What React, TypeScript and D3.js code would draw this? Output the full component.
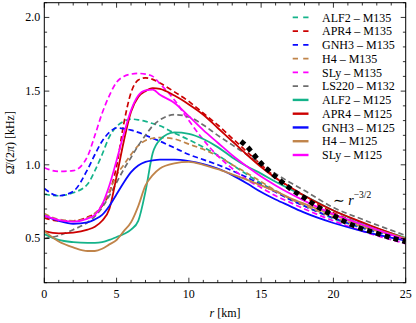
import { useEffect, useRef } from 'react'
import * as d3 from 'd3'

const W = 416
const H = 323
const FONT = 'Liberation Serif, DejaVu Serif, serif'

const TEAL = '#14b38a'
const RED = '#cc0000'
const BLUE = '#0a0aff'
const BROWN = '#c0844a'
const MAGENTA = '#ff00ff'
const GREY = '#6e6e6e'

// radius grid in km
const R = [0, 1, 2, 3, 3.5, 4, 4.5, 5, 5.5, 6, 6.5, 7, 7.5, 8, 9, 10, 11, 12, 13, 14, 15, 16, 17, 18, 20, 22, 25]

// M135 runs (dashed)
const alf2M135 = [0.8, 0.79, 0.81, 0.87, 0.96, 1.07, 1.19, 1.26, 1.295, 1.31, 1.305, 1.295, 1.28, 1.265, 1.215, 1.17, 1.12, 1.065, 1.0, 0.935, 0.875, 0.82, 0.765, 0.72, 0.635, 0.57, 0.49]
const apr4M135 = [0.64, 0.62, 0.62, 0.645, 0.67, 0.72, 0.81, 0.99, 1.28, 1.49, 1.575, 1.59, 1.58, 1.555, 1.495, 1.43, 1.35, 1.27, 1.18, 1.09, 1.0, 0.915, 0.845, 0.78, 0.675, 0.595, 0.495]
const gnh3M135 = [0.84, 0.79, 0.82, 0.97, 1.07, 1.16, 1.22, 1.25, 1.245, 1.235, 1.22, 1.2, 1.18, 1.16, 1.115, 1.07, 1.035, 1.0, 0.96, 0.915, 0.865, 0.815, 0.765, 0.72, 0.64, 0.575, 0.49]
const h4M135 = [0.67, 0.63, 0.62, 0.64, 0.67, 0.73, 0.82, 0.93, 1.0, 1.07, 1.13, 1.165, 1.18, 1.185, 1.175, 1.14, 1.105, 1.06, 1.0, 0.945, 0.885, 0.825, 0.77, 0.725, 0.645, 0.58, 0.5]
const slyM135 = [0.98, 0.955, 0.96, 1.06, 1.2, 1.35, 1.47, 1.56, 1.6, 1.615, 1.62, 1.615, 1.6, 1.55, 1.44, 1.3, 1.17, 1.06, 0.975, 0.9, 0.845, 0.79, 0.745, 0.7, 0.62, 0.55, 0.465]
const ls220M132 = [0.5, 0.52, 0.56, 0.61, 0.65, 0.71, 0.79, 0.88, 0.97, 1.05, 1.13, 1.2, 1.265, 1.305, 1.34, 1.325, 1.27, 1.2, 1.135, 1.07, 1.005, 0.94, 0.88, 0.825, 0.71, 0.63, 0.52]

// M125 runs (solid)
const alf2M125 = [0.53, 0.49, 0.475, 0.47, 0.47, 0.475, 0.49, 0.51, 0.53, 0.56, 0.62, 0.82, 1.08, 1.17, 1.22, 1.21, 1.175, 1.12, 1.05, 0.99, 0.94, 0.885, 0.835, 0.79, 0.69, 0.605, 0.505]
const apr4M125 = [0.55, 0.535, 0.54, 0.56, 0.58, 0.62, 0.7, 0.92, 1.16, 1.36, 1.46, 1.5, 1.52, 1.515, 1.47, 1.41, 1.34, 1.25, 1.16, 1.07, 0.985, 0.91, 0.85, 0.79, 0.69, 0.61, 0.5]
const gnh3M125 = [0.655, 0.62, 0.6, 0.61, 0.63, 0.66, 0.72, 0.8, 0.88, 0.95, 0.995, 1.02, 1.03, 1.035, 1.035, 1.025, 1.005, 0.975, 0.93, 0.875, 0.815, 0.765, 0.72, 0.675, 0.605, 0.55, 0.485]
const h4M125 = [0.55, 0.48, 0.44, 0.415, 0.415, 0.43, 0.46, 0.49, 0.55, 0.61, 0.72, 0.86, 0.93, 0.975, 1.01, 1.02, 1.0, 0.97, 0.935, 0.9, 0.86, 0.82, 0.775, 0.735, 0.66, 0.59, 0.5]
const slyM125 = [0.655, 0.625, 0.615, 0.635, 0.66, 0.73, 0.86, 1.03, 1.21, 1.37, 1.47, 1.505, 1.51, 1.475, 1.42, 1.33, 1.235, 1.15, 1.065, 0.99, 0.92, 0.86, 0.805, 0.755, 0.665, 0.595, 0.49]

// r^{-3/2} reference (black dotted)
const keplerR = [13.6, 14, 15, 16, 17, 18, 19, 20, 21, 22, 23, 24, 25]
const keplerV = [1.16, 1.125, 1.01, 0.92, 0.84, 0.775, 0.71, 0.655, 0.605, 0.565, 0.535, 0.505, 0.478]

const SERIES = [
  { label: 'ALF2 – M135', color: TEAL, dashed: true, values: alf2M135 },
  { label: 'APR4 – M135', color: RED, dashed: true, values: apr4M135 },
  { label: 'GNH3 – M135', color: BLUE, dashed: true, values: gnh3M135 },
  { label: 'H4 – M135', color: BROWN, dashed: true, values: h4M135 },
  { label: 'SLy – M135', color: MAGENTA, dashed: true, values: slyM135 },
  { label: 'LS220 – M132', color: GREY, dashed: true, values: ls220M132 },
  { label: 'ALF2 – M125', color: TEAL, dashed: false, values: alf2M125 },
  { label: 'APR4 – M125', color: RED, dashed: false, values: apr4M125 },
  { label: 'GNH3 – M125', color: BLUE, dashed: false, values: gnh3M125 },
  { label: 'H4 – M125', color: BROWN, dashed: false, values: h4M125 },
  { label: 'SLy – M125', color: MAGENTA, dashed: false, values: slyM125 },
]

export default function App() {
  const ref = useRef<SVGSVGElement>(null)

  useEffect(() => {
    if (!ref.current) return
    const svg = d3.select(ref.current)
    svg.selectAll('*').remove()

    const margin = { top: 2.7, right: 10.3, bottom: 40.3, left: 44.3 }
    const x = d3.scaleLinear().domain([0, 25]).range([margin.left, W - margin.right])
    const y = d3.scaleLinear().domain([0.2, 2.1]).range([H - margin.bottom, margin.top])
    const [x0, x1] = x.range()
    const [y0, y1] = y.range()

    svg.append('rect').attr('width', W).attr('height', H).attr('fill', '#fff')

    svg.append('defs').append('clipPath').attr('id', 'plot-clip')
      .append('rect').attr('x', x0).attr('y', y1).attr('width', x1 - x0).attr('height', y0 - y1)

    const plot = svg.append('g').attr('clip-path', 'url(#plot-clip)')

    const line = d3.line<number>()
      .x((_, i) => x(R[i]))
      .y((d) => y(d))
      .curve(d3.curveMonotoneX)

    const dashedFirst = [...SERIES.filter((s) => s.dashed), ...SERIES.filter((s) => !s.dashed)]
    dashedFirst.forEach((s) => {
      plot.append('path')
        .attr('d', line(s.values))
        .attr('fill', 'none')
        .attr('stroke', s.color)
        .attr('stroke-width', s.dashed ? 1.7 : 1.8)
        .attr('stroke-dasharray', s.dashed ? '5.5,3.2' : null)
    })

    const kepler = d3.line<number>()
      .x((_, i) => x(keplerR[i]))
      .y((d) => y(d))
      .curve(d3.curveMonotoneX)
    plot.append('path')
      .attr('d', kepler(keplerV))
      .attr('fill', 'none')
      .attr('stroke', '#000')
      .attr('stroke-width', 5)
      .attr('stroke-dasharray', '5,4.2')

    // frame
    svg.append('rect')
      .attr('x', x0).attr('y', y1).attr('width', x1 - x0).attr('height', y0 - y1)
      .attr('fill', 'none').attr('stroke', '#000').attr('stroke-width', 1)

    // ticks, inward on all sides
    const ticks = svg.append('g').attr('stroke', '#000').attr('stroke-width', 0.8)
    d3.range(0, 26, 1).forEach((v) => {
      const len = v % 5 === 0 ? 5 : 2.8
      ticks.append('line').attr('x1', x(v)).attr('x2', x(v)).attr('y1', y0).attr('y2', y0 - len)
      ticks.append('line').attr('x1', x(v)).attr('x2', x(v)).attr('y1', y1).attr('y2', y1 + len)
    })
    d3.range(2, 22, 1).forEach((k) => {
      const v = k / 10
      const len = k % 5 === 0 ? 5 : 2.8
      ticks.append('line').attr('y1', y(v)).attr('y2', y(v)).attr('x1', x0).attr('x2', x0 + len)
      ticks.append('line').attr('y1', y(v)).attr('y2', y(v)).attr('x1', x1).attr('x2', x1 - len)
    })

    const labels = svg.append('g').attr('fill', '#000')
      .style('font-family', FONT).style('font-size', '12px')
    ;[0, 5, 10, 15, 20, 25].forEach((v) => {
      labels.append('text').attr('x', x(v)).attr('y', y0 + 15.5)
        .attr('text-anchor', 'middle').text(String(v))
    })
    ;[0.5, 1.0, 1.5, 2.0].forEach((v) => {
      labels.append('text').attr('x', x0 - 4).attr('y', y(v) + 4)
        .attr('text-anchor', 'end').text(v.toFixed(1))
    })

    // axis titles
    const xt = labels.append('text').attr('x', (x0 + x1) / 2).attr('y', y0 + 34).attr('text-anchor', 'middle')
    xt.append('tspan').attr('font-style', 'italic').text('r')
    xt.append('tspan').text(' [km]')

    const yt = labels.append('text')
      .attr('transform', `translate(14,${(y0 + y1) / 2}) rotate(-90)`)
      .attr('text-anchor', 'middle')
    yt.append('tspan').text('Ω\u0304/(2')
    yt.append('tspan').attr('font-style', 'italic').text('π')
    yt.append('tspan').text(') [kHz]')

    // annotation
    const ann = labels.append('text').attr('x', 333).attr('y', 205).style('font-size', '14px')
    ann.append('tspan').text('∼ ')
    ann.append('tspan').attr('font-style', 'italic').text('r')
    ann.append('tspan').style('font-size', '9.5px').attr('dy', -7).text('−3/2')

    // legend
    const lg = svg.append('g')
    SERIES.forEach((s, i) => {
      const ly = 17.3 + i * 13.77
      lg.append('line')
        .attr('x1', 292.7).attr('x2', 308.5).attr('y1', ly).attr('y2', ly)
        .attr('stroke', s.color)
        .attr('stroke-width', s.dashed ? 1.7 : 2.4)
        .attr('stroke-dasharray', s.dashed ? '5.3,5.2' : null)
      lg.append('text')
        .attr('x', 322).attr('y', ly + 4.2)
        .style('font-family', FONT).style('font-size', '12px')
        .text(s.label)
    })

    return () => { svg.selectAll('*').remove() }
  }, [])

  return (
    <div style={{ position: 'fixed', left: 0, top: 0 }}>
      <svg ref={ref} width={W} height={H} style={{ display: 'block' }} />
    </div>
  )
}
